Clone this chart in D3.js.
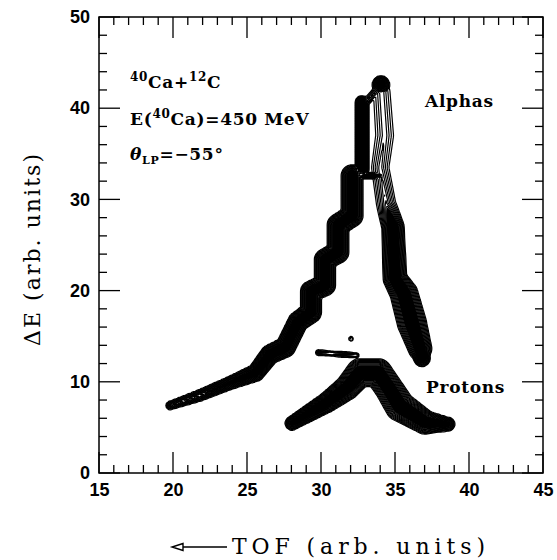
<!DOCTYPE html>
<meta charset="utf-8">
<style>
body { margin: 0; background: #fff; }
.tick text { font: bold 18px "Liberation Sans", Arial, sans-serif; fill: #000; }
.label { font: bold 17px "DejaVu Serif", serif; fill: #000; letter-spacing: 0.7px; }
.title { font: 22px "DejaVu Serif", serif; fill: #000; }
.contour { stroke: #000; stroke-width: 1.2; stroke-linejoin: round; }
</style>
<body>
<script src="https://d3js.org/d3.v7.min.js"></script>
<script>
// ridge lines of the populated bands: [TOF, dE, half width (TOF units), relative height]
var alphaLeft = [
  [32.10, 32.6, 0.78, 1], [32.10, 28.2, 0.78, 1],
  [31.15, 27.2, 0.78, 1], [31.15, 24.2, 0.78, 1],
  [30.27, 23.4, 0.76, 1], [30.27, 20.6, 0.76, 1],
  [29.32, 19.9, 0.75, 1], [29.32, 17.6, 0.75, 1],
  [28.45, 16.6, 0.72, 1], [27.60, 13.8, 0.72, 1],
  [26.55, 13.0, 0.68, 1], [25.60, 11.0, 0.62, 0.9],
  [23.90, 9.9, 0.48, 0.7], [21.80, 8.5, 0.42, 0.6],
  [19.80, 7.4, 0.32, 0.5]
];
var alphaColumn = [[32.77, 40.6, 0.5, 0.9], [32.77, 33.3, 0.5, 0.9]];
var alphaTop = [[34.05, 42.6, 0.62, 1], [34.05, 42.5, 0.62, 1]];
var alphaLink = [[34.0, 42.4, 0.3, 0.35], [32.9, 40.4, 0.3, 0.35]];
var alphaBridge = [[32.1, 32.9, 0.25, 0.6], [33.0, 32.6, 0.25, 0.6], [34.0, 32.6, 0.25, 0.5]];
var alphaStrands = [
  [34.10, 41.8, 0.7, 0.3], [34.30, 37.0, 0.75, 0.3],
  [34.00, 33.5, 0.7, 0.35], [34.40, 29.5, 0.75, 0.45],
  [34.86, 27.0, 0.8, 1]
];
var alphaRight = [
  [34.86, 27.0, 0.8, 1], [35.00, 21.3, 0.85, 1],
  [35.61, 19.65, 1.0, 1], [36.15, 16.4, 1.05, 1],
  [36.69, 13.65, 0.85, 1], [36.82, 12.6, 0.6, 1]
];
var protons = [
  [28.04, 5.46, 0.5, 0.8], [30.41, 7.75, 0.72, 1],
  [31.76, 9.35, 0.88, 1], [32.64, 11.0, 1.0, 1],
  [33.86, 11.0, 1.0, 1], [34.60, 9.25, 1.0, 1],
  [35.34, 7.31, 1.07, 1], [37.03, 5.57, 0.86, 1],
  [38.58, 5.35, 0.5, 0.8]
];
var protonStub = [[29.8, 13.2, 0.2, 0.4], [32.4, 12.9, 0.2, 0.4]];
var speck = [[32.03, 14.74, 0.2, 0.25], [32.03, 14.70, 0.2, 0.25]];

var ridges = [alphaLeft, alphaColumn, alphaTop, alphaLink, alphaBridge,
              alphaStrands, alphaRight, protons, protonStub, speck];

var xTicks = [15, 20, 25, 30, 35, 40, 45];
var yTicks = [0, 10, 20, 30, 40, 50];
var levels = d3.range(0.06, 0.97, 0.06);

var width = 557, height = 560;
var x = d3.scaleLinear().domain([15, 45]).range([99, 543]);
var y = d3.scaleLinear().domain([0, 50]).range([473, 17]);

var svg = d3.select("body").append("svg")
    .attr("width", width)
    .attr("height", height);

// grid of the counts, sampled every 0.1 TOF and 0.2 dE
var stepX = 0.1, stepY = 0.2;
var nx = Math.round(30 / stepX) + 1, ny = Math.round(50 / stepY) + 1;
var px = x(16) - x(15); // pixels per TOF unit

var segs = [];
ridges.forEach(function(r) {
  for (var k = 0; k < r.length - 1; k++) {
    segs.push({
      ax: x(r[k][0]), ay: y(r[k][1]), aw: r[k][2] * px, ah: r[k][3],
      bx: x(r[k+1][0]), by: y(r[k+1][1]), bw: r[k+1][2] * px, bh: r[k+1][3]
    });
  }
});

var values = new Float64Array(nx * ny);
for (var j = 0; j < ny; j++) {
  for (var i = 0; i < nx; i++) {
    var X = x(15 + i * stepX), Y = y(50 - j * stepY), v = 0;
    segs.forEach(function(s) {
      var dx = s.bx - s.ax, dy = s.by - s.ay, L = dx * dx + dy * dy;
      var t = L ? ((X - s.ax) * dx + (Y - s.ay) * dy) / L : 0;
      t = Math.max(0, Math.min(1, t));
      var ex = X - (s.ax + t * dx), ey = Y - (s.ay + t * dy);
      var d = Math.sqrt(ex * ex + ey * ey);
      var w = s.aw + t * (s.bw - s.aw), h = s.ah + t * (s.bh - s.ah);
      if (d < w) v = Math.max(v, h * (1 - d / w));
    });
    values[j * nx + i] = v;
  }
}

var contours = d3.contours().size([nx, ny]).thresholds(levels)(values);

var toScreen = d3.geoTransform({
  point: function(gx, gy) {
    this.stream.point(x(15 + (gx - 0.5) * stepX), y(50 - (gy - 0.5) * stepY));
  }
});

// inner levels are packed so tight they print solid black
svg.append("g")
  .selectAll("path")
  .data(contours)
  .enter().append("path")
    .attr("class", "contour")
    .attr("fill", function(d) { return d.value > 0.5 ? "#000" : "none"; })
    .attr("d", d3.geoPath(toScreen));

// frame with inward ticks on all four sides
svg.append("rect")
    .attr("x", x(15)).attr("y", y(50))
    .attr("width", x(45) - x(15)).attr("height", y(0) - y(50))
    .attr("fill", "none").attr("stroke", "#000").attr("stroke-width", 1.5);

var xMinor = d3.range(15, 46, 1), yMinor = d3.range(0, 51, 2);
var tk = svg.append("g").attr("stroke", "#000").attr("stroke-width", 1.3);
xMinor.forEach(function(v) {
  var len = v % 5 === 0 ? 21 : 8;
  tk.append("line").attr("x1", x(v)).attr("x2", x(v)).attr("y1", y(0)).attr("y2", y(0) - len);
  tk.append("line").attr("x1", x(v)).attr("x2", x(v)).attr("y1", y(50)).attr("y2", y(50) + len);
});
yMinor.forEach(function(v) {
  var len = v % 10 === 0 ? 21 : 8;
  tk.append("line").attr("y1", y(v)).attr("y2", y(v)).attr("x1", x(15)).attr("x2", x(15) + len);
  tk.append("line").attr("y1", y(v)).attr("y2", y(v)).attr("x1", x(45)).attr("x2", x(45) - len);
});

// tick labels
svg.append("g")
    .attr("transform", "translate(0," + y(0) + ")")
    .call(d3.axisBottom(x).tickValues(xTicks).tickSize(0).tickPadding(10))
    .call(function(g) { g.select(".domain").remove(); });
svg.append("g")
    .attr("transform", "translate(" + x(15) + ",0)")
    .call(d3.axisLeft(y).tickValues(yTicks).tickSize(0).tickPadding(9))
    .call(function(g) { g.select(".domain").remove(); });

// annotations
var t1 = svg.append("text").attr("class", "label").attr("x", 130).attr("y", 88);
t1.append("tspan").attr("font-size", 12).attr("dy", -7).text("40");
t1.append("tspan").attr("dy", 7).text("Ca+");
t1.append("tspan").attr("font-size", 12).attr("dy", -7).text("12");
t1.append("tspan").attr("dy", 7).text("C");

var t2 = svg.append("text").attr("class", "label").attr("x", 130).attr("y", 125);
t2.append("tspan").text("E(");
t2.append("tspan").attr("font-size", 12).attr("dy", -7).text("40");
t2.append("tspan").attr("dy", 7).text("Ca)=450 MeV");

var t3 = svg.append("text").attr("class", "label").attr("x", 130).attr("y", 160);
t3.append("tspan").attr("font-style", "italic").text("θ");
t3.append("tspan").attr("font-size", 11).attr("dy", 4).text("LP");
t3.append("tspan").attr("dy", -4).text("=−55°");

svg.append("text").attr("class", "label").attr("x", 425).attr("y", 107).text("Alphas");
svg.append("text").attr("class", "label").attr("x", 426).attr("y", 393).text("Protons");

// axis titles
svg.append("text")
    .attr("class", "title")
    .attr("transform", "translate(40,250) rotate(-90)")
    .attr("text-anchor", "middle")
    .attr("textLength", 192)
    .text("ΔE (arb. units)");

svg.append("text")
    .attr("class", "title")
    .attr("x", 232).attr("y", 554)
    .attr("textLength", 253)
    .text("TOF (arb. units)");

// arrow pointing to shorter flight time
svg.append("path")
    .attr("d", "M183,547 L227,547 M183,543.5 L172,547 L183,550.5 Z")
    .attr("fill", "#fff").attr("stroke", "#000").attr("stroke-width", 1.4);
</script>
</body>
